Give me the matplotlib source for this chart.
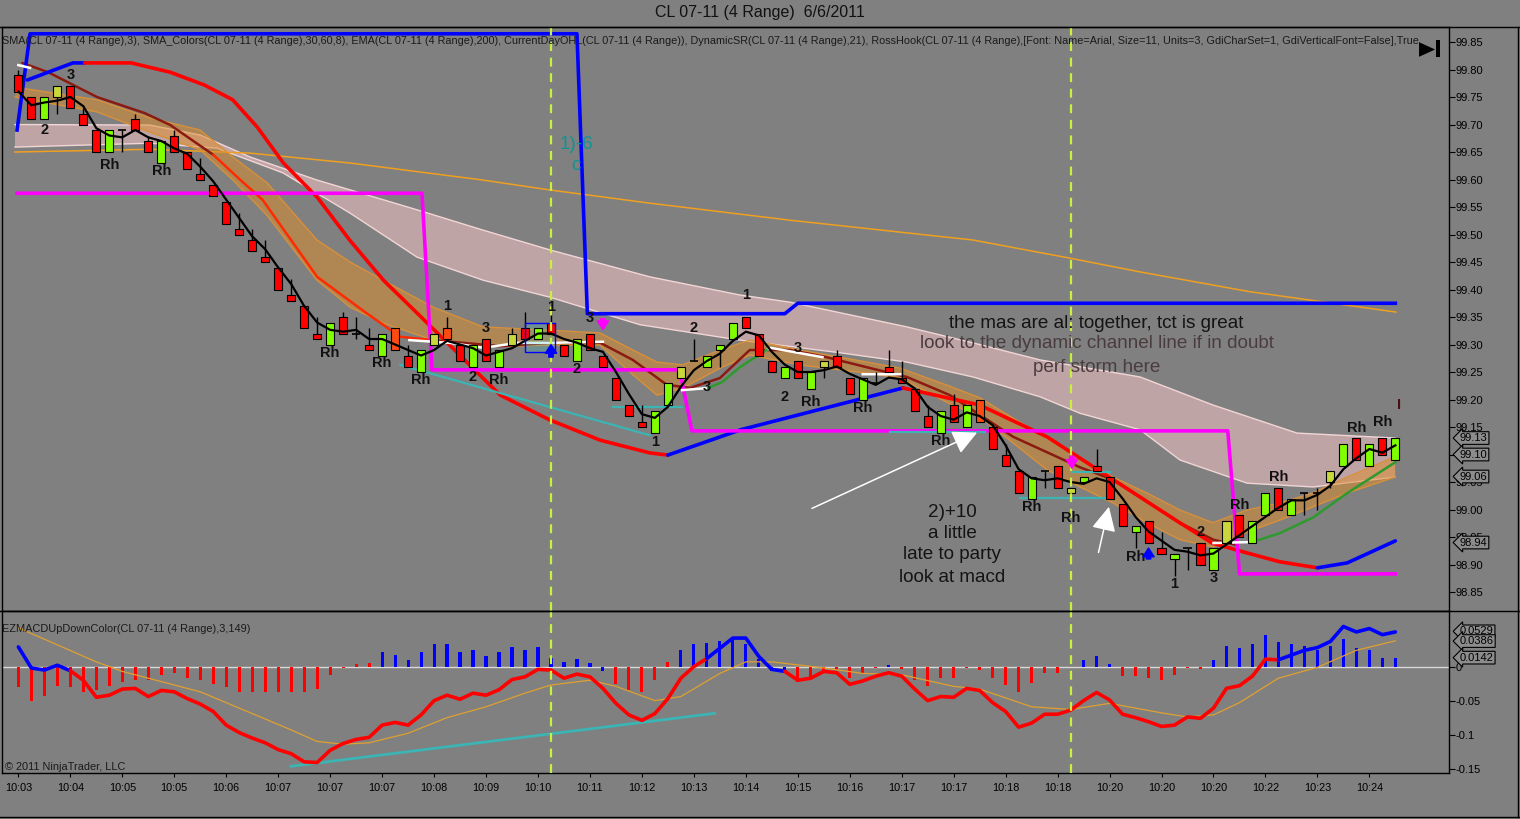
import matplotlib
matplotlib.use("Agg")
import matplotlib.pyplot as plt
import matplotlib.transforms as mtransforms
from matplotlib.lines import Line2D
from matplotlib.patches import Polygon, Rectangle
import numpy as np
import pandas as pd

plt.rcParams["font.family"] = ["Liberation Sans", "DejaVu Sans"]

BG = "#808080"

# ---- 4-tick range bars ----
opens = [
    99.79, 99.75, 99.71, 99.75, 99.77, 99.72, 99.69, 99.65, 99.69, 99.71,
    99.67, 99.63, 99.68, 99.65, 99.61, 99.59, 99.56, 99.51, 99.49, 99.46,
    99.44, 99.39, 99.37, 99.32, 99.30, 99.35, 99.32, 99.30, 99.28, 99.33,
    99.28, 99.25, 99.30, 99.33, 99.30, 99.26, 99.31, 99.26, 99.30, 99.33,
    99.31, 99.34, 99.30, 99.27, 99.32, 99.28, 99.24, 99.19, 99.16, 99.14,
    99.19, 99.24, 99.27, 99.26, 99.29, 99.31, 99.35, 99.32, 99.27, 99.24,
    99.27, 99.22, 99.26, 99.28, 99.24, 99.20, 99.23, 99.26, 99.24, 99.22,
    99.17, 99.14, 99.19, 99.15, 99.20, 99.15, 99.10, 99.07, 99.02, 99.07,
    99.08, 99.03, 99.05, 99.08, 99.06, 99.01, 98.96, 98.98, 98.93, 98.91,
    98.93, 98.94, 98.89, 98.94, 98.99, 98.94, 98.99, 99.04, 98.99, 99.03,
    99.03, 99.05, 99.08, 99.13, 99.08, 99.13, 99.09]
highs = [
    99.80, 99.75, 99.75, 99.77, 99.77, 99.73, 99.69, 99.69, 99.69, 99.72,
    99.68, 99.67, 99.69, 99.65, 99.64, 99.59, 99.56, 99.54, 99.51, 99.49,
    99.44, 99.42, 99.37, 99.35, 99.34, 99.36, 99.35, 99.33, 99.32, 99.33,
    99.30, 99.29, 99.32, 99.35, 99.30, 99.30, 99.31, 99.29, 99.33, 99.36,
    99.33, 99.36, 99.30, 99.31, 99.32, 99.28, 99.24, 99.19, 99.19, 99.18,
    99.23, 99.26, 99.31, 99.28, 99.30, 99.34, 99.35, 99.32, 99.27, 99.26,
    99.27, 99.25, 99.27, 99.29, 99.24, 99.24, 99.25, 99.29, 99.27, 99.22,
    99.19, 99.18, 99.21, 99.19, 99.20, 99.15, 99.12, 99.07, 99.06, 99.07,
    99.08, 99.04, 99.06, 99.11, 99.06, 99.01, 98.97, 98.98, 98.96, 98.92,
    98.93, 98.94, 98.93, 98.98, 98.99, 98.98, 99.03, 99.04, 99.02, 99.03,
    99.04, 99.07, 99.12, 99.13, 99.12, 99.13, 99.13]
lows = [
    99.76, 99.71, 99.71, 99.72, 99.73, 99.70, 99.65, 99.65, 99.65, 99.69,
    99.65, 99.63, 99.65, 99.62, 99.60, 99.57, 99.52, 99.50, 99.47, 99.45,
    99.40, 99.38, 99.33, 99.31, 99.30, 99.32, 99.31, 99.29, 99.28, 99.29,
    99.26, 99.25, 99.30, 99.31, 99.27, 99.26, 99.27, 99.26, 99.30, 99.31,
    99.31, 99.32, 99.28, 99.27, 99.29, 99.26, 99.20, 99.17, 99.15, 99.14,
    99.19, 99.24, 99.27, 99.26, 99.26, 99.31, 99.33, 99.28, 99.25, 99.24,
    99.24, 99.22, 99.24, 99.26, 99.21, 99.20, 99.23, 99.25, 99.23, 99.18,
    99.15, 99.14, 99.16, 99.15, 99.16, 99.11, 99.08, 99.03, 99.02, 99.04,
    99.04, 99.03, 99.05, 99.07, 99.02, 98.97, 98.93, 98.94, 98.92, 98.88,
    98.89, 98.90, 98.89, 98.94, 98.95, 98.94, 98.99, 99.00, 98.99, 98.99,
    99.00, 99.04, 99.08, 99.09, 99.08, 99.10, 99.09]
closes = [
    99.76, 99.71, 99.75, 99.77, 99.73, 99.70, 99.65, 99.69, 99.69, 99.69,
    99.65, 99.67, 99.65, 99.62, 99.60, 99.57, 99.52, 99.50, 99.47, 99.45,
    99.40, 99.38, 99.33, 99.31, 99.34, 99.32, 99.32, 99.29, 99.32, 99.29,
    99.26, 99.29, 99.32, 99.31, 99.27, 99.30, 99.27, 99.29, 99.32, 99.31,
    99.33, 99.32, 99.28, 99.31, 99.29, 99.26, 99.20, 99.17, 99.15, 99.18,
    99.23, 99.26, 99.27, 99.28, 99.30, 99.34, 99.33, 99.28, 99.25, 99.26,
    99.24, 99.25, 99.27, 99.26, 99.21, 99.24, 99.23, 99.25, 99.23, 99.18,
    99.15, 99.18, 99.16, 99.19, 99.16, 99.11, 99.08, 99.03, 99.06, 99.07,
    99.04, 99.04, 99.06, 99.07, 99.02, 98.97, 98.97, 98.94, 98.92, 98.92,
    98.93, 98.90, 98.93, 98.98, 98.95, 98.98, 99.03, 99.00, 99.02, 99.03,
    99.03, 99.07, 99.12, 99.09, 99.12, 99.10, 99.13]
weak_up_bars = [3, 32, 38, 51, 62, 81, 93, 101]
hot_down_bars = [29, 33, 74]

time_labels = ["10:03", "10:04", "10:05", "10:05", "10:06", "10:07", "10:07",
               "10:07", "10:08", "10:09", "10:10", "10:11", "10:12", "10:13",
               "10:14", "10:15", "10:16", "10:17", "10:17", "10:18", "10:18",
               "10:20", "10:20", "10:20", "10:22", "10:23", "10:24"]

# ---- overlays (bar position, price) ----
band_x = [-0.26, 6.05, 10.13, 13.98, 16.52, 19.14, 22.99, 25.53, 28.07, 31.92,
          35.77, 40.92, 44.77, 47.31, 49.16, 51.16, 54.01, 56.32, 60.17, 65.33,
          67.87, 71.49, 74.03, 76.57, 79.19, 81.72, 84.27, 86.88, 89.42, 91.96,
          94.58, 97.12, 99.66, 102.28, 105.97]
band_hi = [99.768, 99.745, 99.712, 99.690, 99.641, 99.594, 99.490, 99.450, 99.417, 99.368,
           99.332, 99.326, 99.321, 99.290, 99.268, 99.263, 99.290, 99.308, 99.290, 99.268,
           99.257, 99.226, 99.203, 99.166, 99.130, 99.094, 99.059, 99.030, 98.999, 98.976,
           98.999, 99.012, 99.030, 99.059, 99.096]
band_lo = [99.750, 99.723, 99.686, 99.654, 99.599, 99.535, 99.417, 99.368, 99.339, 99.308,
           99.296, 99.299, 99.299, 99.245, 99.208, 99.221, 99.257, 99.281, 99.263, 99.248,
           99.239, 99.195, 99.168, 99.121, 99.072, 99.041, 99.012, 98.976, 98.945, 98.932,
           98.959, 98.981, 99.005, 99.030, 99.059]

chan_hi_x = [-0.26, 10.13, 13.98, 17.83, 22.99, 30.68, 35.77, 40.92, 48.62, 55.55,
             59.40, 68.41, 73.49, 78.65, 86.35, 91.96, 98.43, 105.97]
chan_hi = [99.700, 99.699, 99.681, 99.641, 99.599, 99.545, 99.508, 99.472, 99.423, 99.390,
           99.377, 99.332, 99.303, 99.272, 99.241, 99.190, 99.139, 99.130]
chan_lo_x = [-0.26, 10.13, 15.29, 20.37, 25.53, 30.68, 35.77, 40.92, 47.85, 55.55,
             63.25, 68.41, 73.49, 78.65, 81.72, 86.35, 89.42, 94.58, 99.66, 105.97]
chan_lo = [99.659, 99.666, 99.657, 99.612, 99.539, 99.459, 99.417, 99.386, 99.336, 99.308,
           99.285, 99.268, 99.241, 99.205, 99.175, 99.145, 99.090, 99.048, 99.041, 99.059]

ema_x = [-0.26, 10.13, 17.83, 25.53, 35.77, 40.92, 48.62, 59.40, 73.49, 80.95,
         86.35, 94.81, 106.05]
ema_y = [99.650, 99.655, 99.648, 99.630, 99.599, 99.581, 99.557, 99.526, 99.490, 99.457,
         99.432, 99.396, 99.359]

dsr_x = [0.7, 4.2, 5.1, 8.7, 11.7, 14.3, 16.5, 18.4, 20.4, 23.0, 25.5, 28.1, 30.7, 33.2,
         35.5, 37.1, 40.9, 44.8, 48.6, 50.0, 55.6, 60.7, 64.5, 68.1, 74.0, 79.2, 84.3,
         89.4, 91.9, 94.6, 97.1, 100.0, 102.3, 106.0]
dsr_y = [99.781, 99.812, 99.812, 99.812, 99.795, 99.772, 99.745, 99.695, 99.630, 99.568,
         99.490, 99.417, 99.357, 99.299, 99.245, 99.208, 99.163, 99.126, 99.103, 99.099,
         99.145, 99.176, 99.199, 99.221, 99.190, 99.132, 99.054, 98.976, 98.939, 98.921,
         98.905, 98.894, 98.903, 98.943]
dsr_turns = [5.1, 50.0, 68.1, 100.0]

mid_x = [0.3, 2.3, 6.05, 9.7, 11.7, 15.0, 17.1, 18.8, 23.0, 26.8, 29.4, 31.9, 37.1, 40.9,
         44.8, 47.3, 49.9, 51.7, 54.0, 56.3, 59.4, 62.2, 65.6, 68.4, 71.7, 76.6, 81.7,
         84.3, 89.4, 92.0, 93.7]
mid_y = [99.812, 99.795, 99.750, 99.721, 99.699, 99.645, 99.599, 99.563, 99.423, 99.357,
         99.314, 99.308, 99.297, 99.303, 99.303, 99.272, 99.227, 99.221, 99.239, 99.290,
         99.290, 99.277, 99.257, 99.241, 99.208, 99.132, 99.077, 99.054, 98.976, 98.945,
         98.936]
mid_turns = [15.0, 31.9]

day_hi_x = [-0.1, 0.9, 43.0, 43.8, 59.0, 60.0, 106.0]
day_hi_y = [99.690, 99.865, 99.865, 99.356, 99.356, 99.375, 99.375]
day_lo_x = [-0.1, 31.07, 31.84, 50.9, 51.85, 93.1, 94.0, 106.0]
day_lo_y = [99.575, 99.575, 99.254, 99.254, 99.143, 99.143, 98.883, 98.883]

flat_x = [0.0, 0.9, np.nan, 30.1, 33.2, 35.8, 38.4, 40.9, 45.0, np.nan, 51.1, 53.1, np.nan,
          57.6, 57.9, 61.9, np.nan, 65.0, 67.9, np.nan, 92.0, 95.0]
flat_y = [99.808, 99.803, np.nan, 99.308, 99.303, 99.294, 99.303, 99.303, 99.305, np.nan,
          99.217, 99.221, np.nan, 99.290, 99.294, 99.277, np.nan, 99.246, 99.246, np.nan,
          98.939, 98.941]
rise_x = [53.1, 54.2, 55.55, 57.6, np.nan, 95.0, 97.1, 99.7, 102.3, 106.0]
rise_y = [99.221, 99.232, 99.259, 99.290, np.nan, 98.941, 98.957, 98.986, 99.030, 99.086]

# hand-drawn trend lines: (x0, y0, x1, y1)
trend_lines = [(29.4, 99.263, 48.6, 99.135), (45.8, 99.186, 51.1, 99.186),
               (67.1, 99.141, 74.4, 99.141), (77.1, 99.021, 84.0, 99.021),
               (81.1, 99.068, 84.0, 99.068)]
marked_bars = [41, 81]

hook_x = [4, 2, 7, 11, 24, 28, 31, 33, 35, 36, 37, 41, 43, 44, 49, 52, 53, 56, 60, 59,
          61, 65, 71, 78, 81, 86, 89, 91, 92, 94, 97, 103, 105]
hook_y = [99.790, 99.690, 99.627, 99.615, 99.285, 99.266, 99.235, 99.370, 99.241, 99.330,
          99.235, 99.368, 99.256, 99.348, 99.123, 99.330, 99.223, 99.390, 99.294, 99.205,
          99.196, 99.185, 99.125, 99.005, 98.985, 98.914, 98.865, 98.959, 98.875, 99.008,
          99.059, 99.148, 99.159]
hook_txt = ["3", "2", "Rh", "Rh", "Rh", "Rh", "Rh", "1", "2", "3", "Rh", "1", "2", "3",
            "1", "2", "3", "1", "3", "2", "Rh", "Rh", "Rh", "Rh", "Rh", "Rh", "1", "2",
            "3", "Rh", "Rh", "Rh", "Rh"]

last_prices = [99.13, 99.10, 99.06, 98.94]

# ---- EZ MACD panel ----
macd = [
    0.030, -0.001, -0.004, 0.003, -0.005, -0.019, -0.044, -0.041, -0.032, -0.031,
    -0.043, -0.034, -0.036, -0.046, -0.054, -0.065, -0.085, -0.096, -0.104, -0.111,
    -0.121, -0.127, -0.139, -0.140, -0.122, -0.112, -0.106, -0.103, -0.085, -0.081,
    -0.085, -0.070, -0.049, -0.041, -0.047, -0.038, -0.041, -0.033, -0.018, -0.014,
    -0.003, -0.004, -0.016, -0.010, -0.014, -0.031, -0.053, -0.070, -0.078, -0.068,
    -0.046, -0.016, 0.001, 0.013, 0.028, 0.043, 0.043, 0.016, -0.003, -0.006,
    -0.019, -0.016, -0.006, -0.008, -0.025, -0.020, -0.013, -0.008, -0.013, -0.032,
    -0.049, -0.043, -0.044, -0.031, -0.034, -0.052, -0.065, -0.088, -0.082, -0.069,
    -0.069, -0.063, -0.049, -0.037, -0.048, -0.069, -0.074, -0.080, -0.087, -0.085,
    -0.073, -0.075, -0.060, -0.031, -0.027, -0.013, 0.012, 0.011, 0.018, 0.025,
    0.029, 0.038, 0.060, 0.052, 0.057, 0.048, 0.052]
macd_turns = [4, 53, 59, 97]
hist = [
    -0.029, -0.050, -0.042, -0.028, -0.029, -0.036, -0.033, -0.028, -0.021, -0.019,
    -0.019, -0.011, -0.009, -0.016, -0.019, -0.025, -0.029, -0.036, -0.036, -0.036,
    -0.036, -0.036, -0.036, -0.032, -0.011, -0.001, 0.005, 0.007, 0.022, 0.018,
    0.011, 0.022, 0.034, 0.034, 0.022, 0.025, 0.017, 0.022, 0.030, 0.026,
    0.030, 0.013, 0.008, 0.012, 0.007, -0.006, -0.025, -0.033, -0.036, -0.019,
    0.008, 0.026, 0.035, 0.036, 0.038, 0.045, 0.035, 0.012, -0.006, -0.006,
    -0.021, -0.014, -0.004, -0.004, -0.015, -0.009, -0.001, 0.003, -0.003, -0.019,
    -0.027, -0.016, -0.015, -0.001, -0.004, -0.016, -0.026, -0.037, -0.023, -0.008,
    -0.008, 0.000, 0.011, 0.017, 0.005, -0.013, -0.013, -0.016, -0.019, -0.011,
    -0.001, -0.002, 0.011, 0.031, 0.028, 0.034, 0.048, 0.037, 0.034, 0.031,
    0.026, 0.031, 0.041, 0.028, 0.026, 0.013, 0.013]
hist_flip = [26, 27, 45, 50, 58, 59]
sig_x = [0, 3, 6, 8, 11, 14, 18, 21, 23, 25, 27, 30, 33, 36, 39, 41, 44, 46, 49, 51, 54,
         56, 58, 62, 65, 68, 72, 74, 78, 81, 84, 88, 90, 92, 94, 97, 100, 103, 106]
sig_y = [0.058, 0.033, 0.008, -0.006, -0.021, -0.036, -0.068, -0.092, -0.109, -0.113,
         -0.111, -0.097, -0.074, -0.058, -0.038, -0.026, -0.019, -0.028, -0.049, -0.043,
         -0.009, 0.008, 0.008, -0.001, -0.009, -0.011, -0.028, -0.032, -0.058, -0.062,
         -0.053, -0.067, -0.073, -0.070, -0.052, -0.016, 0.000, 0.025, 0.039]
macd_trend = (21.0, -0.1455, 53.6, -0.0677)
macd_marks = [0.0529, 0.0386, 0.0142]


def switching_line(axis, xs, ys, turns, colors, lw, z):
    xs = np.asarray(xs, float)
    ys = np.asarray(ys, float)
    edges = [xs[0]] + list(turns) + [xs[-1]]
    for k in range(len(edges) - 1):
        m = (xs >= edges[k]) & (xs <= edges[k + 1])
        axis.plot(xs[m], ys[m], color=colors[k % 2], lw=lw, zorder=z,
                  solid_capstyle="round", solid_joinstyle="round")


W, H = 1520, 819
fig = plt.figure(figsize=(W / 100, H / 100), dpi=100, facecolor=BG)
ax = fig.add_axes([2 / W, (H - 611) / H, 1447 / W, 584 / H], facecolor=BG)
axm = fig.add_axes([2 / W, (H - 773) / H, 1447 / W, 162 / H], facecolor=BG, sharex=ax)

n = len(closes)
xs = np.arange(n)

# dynamic channel (pink) and SMA_Colors band (orange)
ax.fill(np.r_[chan_hi_x, chan_lo_x[::-1]], np.r_[chan_hi, chan_lo[::-1]],
        color="#ffc8cc", alpha=0.5, lw=0, zorder=1)
ax.plot(chan_hi_x, chan_hi, color="#f2d6d6", lw=1, zorder=1.2)
ax.plot(chan_lo_x, chan_lo, color="#f2d6d6", lw=1, zorder=1.2)
ax.plot(ema_x, ema_y, color="#f0a020", lw=1.1, zorder=1.5)
ax.fill_between(band_x, band_hi, band_lo, color="#e08c28", alpha=0.5, lw=0, zorder=2)
ax.plot(band_x, band_hi, color="#d8903a", lw=1, zorder=2.1)
ax.plot(band_x, band_lo, color="#d8903a", lw=1, zorder=2.1)

switching_line(ax, mid_x, mid_y, mid_turns, ["#8b1a10", "#ff2a00"], 1.8, 3)
switching_line(ax, dsr_x, dsr_y, dsr_turns, ["#0000ff", "#ff0000"], 2.6, 3.2)
ax.plot(day_hi_x, day_hi_y, color="#0000ff", lw=2.6, zorder=3.3)
ax.plot(day_lo_x, day_lo_y, color="#ff00ff", lw=2.6, zorder=3.3)
ax.plot(flat_x, flat_y, color="white", lw=1.8, zorder=3.4)
ax.plot(rise_x, rise_y, color="#2e9a2e", lw=1.8, zorder=3.4)

for x0, y0, x1, y1 in trend_lines:
    ax.plot([x0, x1], [y0, y1], color="#3cb4b4", lw=1.6, zorder=3.5)

ax.add_patch(Rectangle((39.0, 99.287), 2.3, 0.052, fc="#40c0c0", alpha=0.25,
                       ec="none", zorder=3.6))
ax.add_patch(Rectangle((39.0, 99.287), 2.3, 0.052, fill=False, ec="#0000ff",
                       lw=1, zorder=6))

# candles
body_w = 0.62
for i in range(n):
    o, h, l, c = opens[i], highs[i], lows[i], closes[i]
    ax.vlines(i, l, h, color="black", lw=1, zorder=4)
    if c == o:
        ax.hlines(o, i - body_w / 2, i + body_w / 2, color="black", lw=1.2, zorder=4.5)
        continue
    if i in weak_up_bars:
        col = "#c8d83c"
    elif i in hot_down_bars:
        col = "#ff4a10"
    else:
        col = "#80ff00" if c > o else "#ff0000"
    ax.add_patch(Rectangle((i - body_w / 2, min(o, c)), body_w, abs(c - o),
                           fc=col, ec="black", lw=0.8, zorder=4.5))

sma3 = pd.Series(closes).rolling(3, min_periods=1).mean()
ax.plot(xs, sma3, color="black", lw=1.6, zorder=5)

for bx in marked_bars:
    for a in (ax, axm):
        a.axvline(bx, color="#c8f040", lw=1.6, ls=(0, (4, 3)), zorder=7)

for x, y, t in zip(hook_x, hook_y, hook_txt):
    ax.text(x, y, t, ha="center", va="center", fontsize=10.5, fontweight="bold",
            color="#111111", zorder=8)
ax.text(106.3, 99.19, "I", ha="center", va="center", fontsize=10.5, fontweight="bold",
        color="#4a1010", zorder=8)

# small signal arrows
arrow_specs = [((41.0, 99.272), (41.0, 99.305), "#0000ff"),
               ((45.0, 99.352), (45.0, 99.322), "#ff00ff"),
               ((81.1, 99.102), (81.1, 99.070), "#ff00ff"),
               ((87.0, 98.905), (87.0, 98.935), "#0000ff")]
for start, end, col in arrow_specs:
    ax.annotate("", xy=end, xytext=start,
                arrowprops=dict(arrowstyle="simple,head_width=0.9,head_length=0.7,tail_width=0.35",
                                fc=col, ec=col, mutation_scale=9), zorder=9)

for start, end in [((60.9, 99.000), (74.0, 99.142)), ((83.1, 98.917), (84.0, 99.010))]:
    ax.annotate("", xy=end, xytext=start,
                arrowprops=dict(arrowstyle="-|>,head_length=1.0,head_width=0.5",
                                color="white", lw=1.1, mutation_scale=15), zorder=9)

# notes
note_fs = 13.6
ax.text(83.0, 99.339, "the mas are al: together, tct is great", ha="center", va="center",
        fontsize=note_fs, color="#141414", zorder=9)
ax.text(83.0, 99.301, "look to the dynamic channel line if in doubt", ha="center",
        va="center", fontsize=note_fs, color="#4a3c3e", zorder=9)
ax.text(83.0, 99.259, "perf storm here", ha="center", va="center", fontsize=note_fs,
        color="#4a3c3e", zorder=9)
for y, t in zip([98.995, 98.957, 98.919, 98.877],
                ["2)+10", "a little", "late to party", "look at macd"]):
    ax.text(71.9, y, t, ha="center", va="center", fontsize=note_fs, color="#141414", zorder=9)
ax.text(43.0, 99.663, "1)-6", ha="center", va="center", fontsize=note_fs, color="#0f9494",
        zorder=9)
ax.text(42.9, 99.625, "c", ha="center", va="center", fontsize=note_fs, color="#0f9494",
        zorder=9)

ax.text(0.0, 0.976, "SMA(CL 07-11 (4 Range),3), SMA_Colors(CL 07-11 (4 Range),30,60,8), "
        "EMA(CL 07-11 (4 Range),200), CurrentDayOHL(CL 07-11 (4 Range)), DynamicSR(CL 07-11 "
        "(4 Range),21), RossHook(CL 07-11 (4 Range),[Font: Name=Arial, Size=11, Units=3, "
        "GdiCharSet=1, GdiVerticalFont=False],True,", transform=ax.transAxes,
        ha="left", va="center", fontsize=7.8, color="#1a1a1a", zorder=10)

# "go to end" glyph
ax.add_patch(Polygon([[0.9793, 0.974], [0.9793, 0.949], [0.9904, 0.9615]], closed=True,
                     transform=ax.transAxes, fc="black", ec="none", zorder=10))
ax.add_patch(Rectangle((0.9911, 0.949), 0.0028, 0.029, transform=ax.transAxes,
                       fc="black", ec="none", zorder=10))

ax.set_xlim(-1.26, 110.13)
ax.set_ylim(98.8155, 99.8773)
ax.yaxis.tick_right()
ax.set_yticks(np.round(np.arange(98.85, 99.851, 0.05), 2))
ax.yaxis.set_major_formatter(plt.FormatStrFormatter("%.2f"))
ax.tick_params(axis="y", direction="out", length=4, labelsize=8, pad=1, colors="black")
ax.tick_params(axis="x", bottom=False, labelbottom=False)

ytr = mtransforms.blended_transform_factory(ax.transAxes, ax.transData)
for v in last_prices:
    ax.text(1.0075, v, f"{v:.2f}", transform=ytr, ha="left", va="center", fontsize=8,
            clip_on=False, zorder=20,
            bbox=dict(boxstyle="larrow,pad=0.12", fc="#8c8c8c", ec="black", lw=0.8))

# MACD panel
axm.axhline(0, color="#d8d8d8", lw=1, zorder=1)
hcols = []
for i, v in enumerate(hist):
    up = v > 0
    if i in hist_flip:
        up = not up
    hcols.append("#0000ff" if up else "#ff0000")
axm.bar(xs, hist, width=0.24, color=hcols, zorder=2)
axm.plot(sig_x, sig_y, color="#e0a030", lw=0.9, zorder=3)
switching_line(axm, xs, macd, macd_turns, ["#0000ff", "#ff0000"], 2.6, 4)
axm.plot([macd_trend[0], macd_trend[2]], [macd_trend[1], macd_trend[3]],
         color="#3cb4b4", lw=2, zorder=3.5)

axm.set_ylim(-0.1554, 0.0828)
axm.yaxis.tick_right()
axm.set_yticks([0, -0.05, -0.1, -0.15])
axm.set_yticklabels(["0", "-0.05", "-0.1", "-0.15"])
axm.tick_params(axis="y", direction="out", length=4, labelsize=8, pad=1, colors="black")
axm.set_xticks(np.arange(0, 105, 4))
axm.set_xticklabels(time_labels)
axm.tick_params(axis="x", direction="out", length=3, labelsize=7.8, pad=4, colors="black")

mtr = mtransforms.blended_transform_factory(axm.transAxes, axm.transData)
for v in macd_marks:
    axm.text(1.0075, v, f"{v:.4f}", transform=mtr, ha="left", va="center", fontsize=8,
             clip_on=False, zorder=20,
             bbox=dict(boxstyle="larrow,pad=0.12", fc="#8c8c8c", ec="black", lw=0.8))

axm.text(0.0, 0.889, "EZMACDUpDownColor(CL 07-11 (4 Range),3,149)", transform=axm.transAxes,
         ha="left", va="center", fontsize=7.9, color="#1a1a1a")
axm.text(0.002, 0.037, "\u00a9 2011 NinjaTrader, LLC", transform=axm.transAxes,
         ha="left", va="center", fontsize=7.9, color="#1a1a1a")

for a in (ax, axm):
    for s in a.spines.values():
        s.set_color("black")
        s.set_linewidth(1)

for y in (H - 27, H - 611, 2):
    fig.add_artist(Line2D([0, 1], [y / H, y / H], transform=fig.transFigure,
                          color="black", lw=1))
fig.add_artist(Line2D([1518 / W, 1518 / W], [2 / H, (H - 27) / H], transform=fig.transFigure,
                      color="black", lw=1))

fig.text(0.5, 1 - 13 / H, "CL 07-11 (4 Range)  6/6/2011", ha="center", va="center",
         fontsize=11.5, color="#111111")

fig.savefig("out.png", dpi=100, facecolor=BG)
